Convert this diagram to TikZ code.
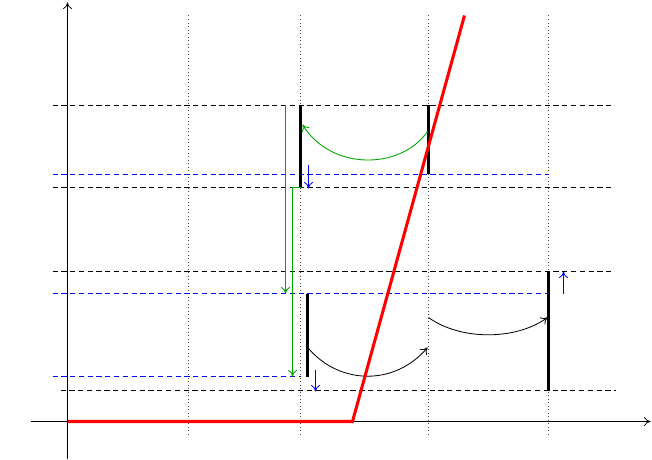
\documentclass[tikz,border=0pt]{standalone}
\usetikzlibrary{arrows.meta}
\begin{document}
\begin{tikzpicture}[x=0.03cm,y=-0.03cm,
  tip/.style={-{To[length=5.5pt,width=7.5pt]}},
  axis/.style={tip,line width=0.6pt,black},
  grid/.style={dash pattern=on 0.6pt off 2.4pt,line width=0.6pt,black!70},
  hdash/.style={dash pattern=on 4.5pt off 3pt,line width=0.55pt,black},
  bdash/.style={dash pattern=on 4.5pt off 3pt,line width=0.55pt,blue},
  bar/.style={line width=3.2pt,black},
  garr/.style={tip,line width=0.75pt,green!65!black},
  barr/.style={tip,line width=0.7pt,blue},
  karr/.style={tip,line width=0.7pt,black}]
\useasboundingbox (-0.5,-0.5) rectangle (651.5,459.5);
% grid
\foreach \x in {188,300,428,548} \draw[grid] (\x,15) -- (\x,436);
% horizontal dashed
\draw[hdash] (52,105) -- (610,105);
\draw[hdash] (52,187) -- (610,187);
\draw[hdash] (52,271) -- (610,271);
\draw[hdash] (60,390) -- (615,390);
\draw[bdash] (52,174) -- (548,174);
\draw[bdash] (52,293) -- (548,293);
\draw[bdash] (52,376) -- (300,376);
% axes
\coordinate (xs) at (30,421); \coordinate (xe) at (650,421);
\coordinate (ys) at (67,458); \coordinate (ye) at (67,2);
\draw[axis] (xs) -- (xe);
\draw[axis] (ys) -- (ye);
% bars
\draw[bar] (300,105) -- (300,187);
\draw[bar] (428,105) -- (428,174);
\draw[bar] (307,293) -- (307,376);
\draw[bar] (548,271) -- (548,390);
% green arrows
\draw[garr] (285,105) -- (285,293);
\draw[garr] (300,187) -- (292,187) -- (292,376);
\draw[garr] (427,131) .. controls (400,170) and (330,170) .. (302,124);
% black arcs
\draw[karr] (308,348) .. controls (340,385) and (395,385) .. (427,347);
\draw[karr] (428,317) .. controls (460,340) and (515,340) .. (547,317);
% blue arrows
\draw[barr] (308,165) -- (308,188);
\draw[barr] (315,369) -- (315,391);
\draw[barr] (563,293) -- (563,271);
% red curve
\draw[red,line width=2.6pt] (67,421) -- (352,421) -- (464,15);
\end{tikzpicture}
\end{document}
